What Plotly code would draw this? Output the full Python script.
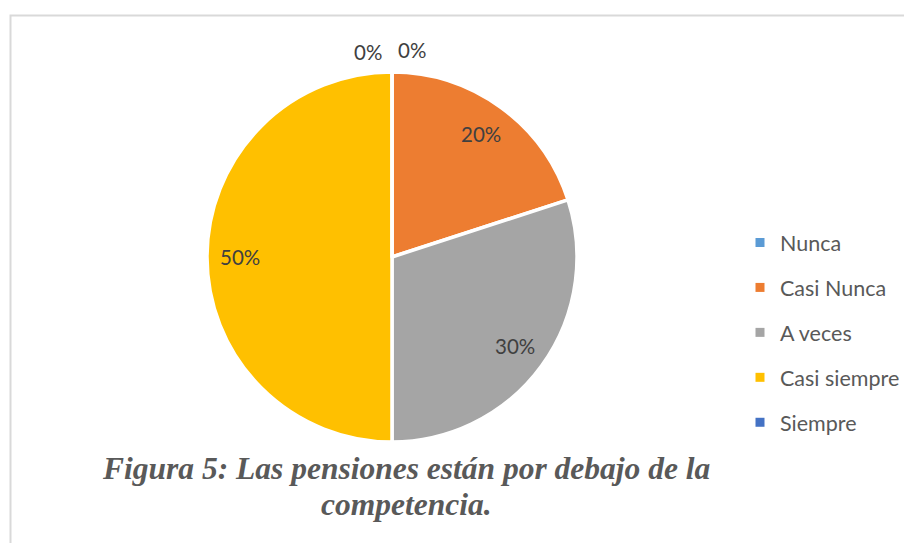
import math
import plotly.graph_objects as go

categorias = ['Nunca', 'Casi Nunca', 'A veces', 'Casi siempre', 'Siempre']
porcentajes = [0, 20, 30, 50, 0]
colores = ['#5B9BD5', '#ED7D31', '#A5A5A5', '#FFC000', '#4472C4']
titulo = ['Figura 5: Las pensiones están por debajo de la', 'competencia.']

W, H = 912, 543
# centro y radio del pastel en pixeles (la pagina tiene 8px de margen)
cx, cy, R = 384, 249, 185

fig = go.Figure()

fig.add_trace(go.Pie(
    labels=categorias,
    values=porcentajes,
    marker=dict(colors=colores, line=dict(color='white', width=3.5)),
    sort=False,
    direction='clockwise',
    rotation=0,
    textinfo='none',
    showlegend=False,
    domain=dict(x=[(cx - R) / W, (cx + R) / W], y=[(H - cy - R) / H, (H - cy + R) / H]),
    hoverinfo='label+percent',
))

# etiquetas de datos, a la manera de Excel
anots = []
total = sum(porcentajes)
acum = 0
for i, v in enumerate(porcentajes):
    ang = (acum + v / 2) / total * 2 * math.pi
    acum += v
    if v > 0:
        r, xa, xs = 0.82 * R, 'center', 0
    else:
        r = R + 20
        xa, xs = ('left', 4) if i < len(porcentajes) / 2 else ('right', -8)
    px_ = cx + r * math.sin(ang)
    py_ = cy - r * math.cos(ang)
    anots.append(dict(
        text=f'{v}%', x=px_ / W, y=(H - py_) / H, xref='paper', yref='paper',
        xanchor=xa, yanchor='middle', xshift=xs, yshift=(2 if xa == 'left' else 0),
        showarrow=False, font=dict(family='Lato', size=20.5, color='#404040'),
    ))

# pie de figura
for linea, yc in zip(titulo, [460, 496]):
    anots.append(dict(
        text=f'<b><i>{linea}</i></b>', x=398 / W, y=(H - yc) / H,
        xref='paper', yref='paper', xanchor='center', yanchor='middle',
        showarrow=False,
        font=dict(family='Liberation Serif', size=31.5, color='#595959'),
    ))

# entradas de la leyenda
for cat, col in zip(categorias, colores):
    fig.add_trace(go.Scatter(
        x=[None], y=[None], mode='markers', name=cat, legendgroup=cat,
        marker=dict(symbol='square', size=9, color=col),
    ))

fig.update_layout(
    width=W, height=H,
    margin=dict(l=0, r=0, t=0, b=0),
    paper_bgcolor='white',
    plot_bgcolor='white',
    xaxis=dict(visible=False),
    yaxis=dict(visible=False),
    legend=dict(
        x=732 / W, y=(H - 214) / H, xanchor='left', yanchor='top',
        font=dict(family='Lato', size=21.5, color='#595959'),
        tracegroupgap=14,
        itemwidth=30,
    ),
    shapes=[dict(type='rect', xref='paper', yref='paper',
                 x0=2.5 / W, x1=1.02, y0=-0.02, y1=(H - 7.5) / H,
                 line=dict(color='#D9D9D9', width=2))],
    annotations=anots,
)

fig.write_html('out.html')
